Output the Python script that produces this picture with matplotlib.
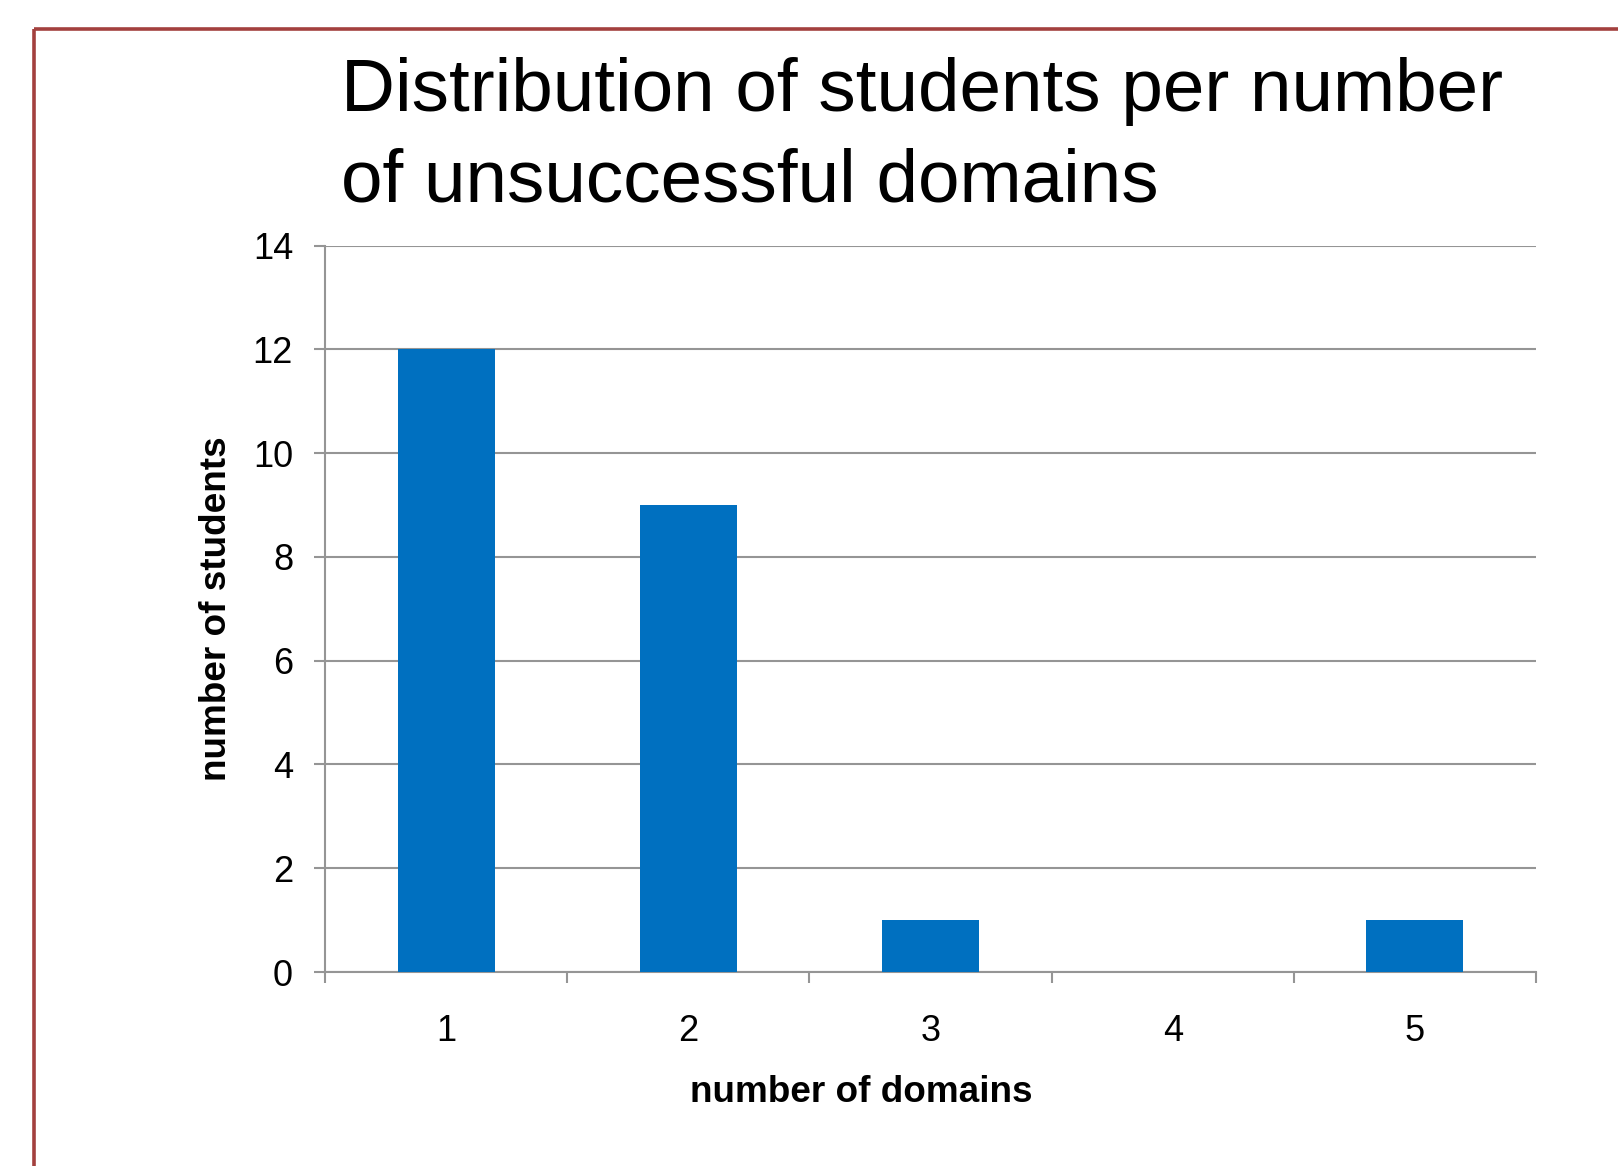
import matplotlib
matplotlib.use("Agg")
import matplotlib.pyplot as plt
from matplotlib.lines import Line2D

categories = ["1", "2", "3", "4", "5"]
students = [12, 9, 1, 0, 1]
yticks = [0, 2, 4, 6, 8, 10, 12, 14]
title_lines = ["Distribution of students per number", "of unsuccessful domains"]
xlabel = "number of domains"
ylabel = "number of students"

plt.rcParams['font.family'] = ['Liberation Sans', 'DejaVu Sans']

W, H = 1618, 1166
fig = plt.figure(figsize=(W / 100, H / 100), dpi=100)
fig.patch.set_facecolor('white')

# red frame
fc = '#A3403E'
fig.add_artist(Line2D([34 / W, 34 / W], [-0.02, 1 - 29 / H], transform=fig.transFigure,
                      color=fc, lw=2.6, solid_capstyle='butt'))
fig.add_artist(Line2D([34 / W, 1.02], [1 - 29 / H, 1 - 29 / H], transform=fig.transFigure,
                      color=fc, lw=2.6, solid_capstyle='butt'))

ax = fig.add_axes([325 / W, 1 - 972 / H, (1536 - 325) / W, (972 - 245.5) / H])
x = list(range(1, len(categories) + 1))
ax.bar(x, students, width=0.4, color='#0070C0', zorder=3)
ax.set_xlim(0.5, len(categories) + 0.5)
ax.set_ylim(0, 14)

gcol = '#959595'
ax.set_yticks(yticks)
ax.set_yticklabels([str(v) for v in yticks])
ax.yaxis.grid(True, color=gcol, lw=1.5, zorder=0)
ax.set_axisbelow(True)

ax.set_xticks([i + 0.5 for i in range(len(categories) + 1)])
ax.set_xticklabels([])
ax.set_xticks(x, minor=True)
ax.set_xticklabels(categories, minor=True)
ax.tick_params(axis='x', which='minor', length=0, pad=30, labelsize=26)
ax.tick_params(axis='x', which='major', length=8, width=1.5, color=gcol, direction='out')
ax.tick_params(axis='y', length=8, width=1.5, color=gcol, direction='out', pad=15, labelsize=26)

for s in ['top', 'right']:
    ax.spines[s].set_visible(False)
for s in ['left', 'bottom']:
    ax.spines[s].set_color(gcol)
    ax.spines[s].set_linewidth(1.5)

fig.text(861 / W, 1 - 1102 / H, xlabel, ha='center', va='baseline',
         fontsize=26.6, fontweight='bold')
fig.text(217 / W, 1 - 609 / H, ylabel, ha='center', va='center', rotation=90,
         fontsize=26.6, fontweight='bold')

fig.text(341 / W, 1 - 111.5 / H, title_lines[0], ha='left', va='baseline', fontsize=53.8)
fig.text(341 / W, 1 - 201 / H, title_lines[1], ha='left', va='baseline', fontsize=53.8)

fig.savefig('out.png', dpi=100, facecolor='white')
